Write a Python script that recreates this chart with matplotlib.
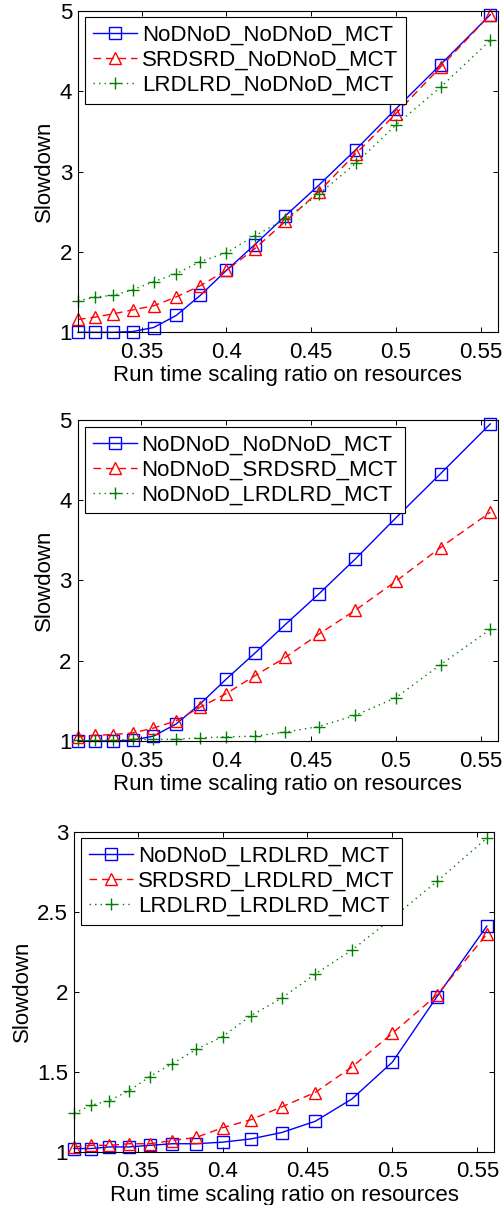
import matplotlib
matplotlib.use("Agg")
import matplotlib.pyplot as plt
from matplotlib.ticker import FuncFormatter

plt.rcParams.update({
    "font.family": ["Liberation Sans", "DejaVu Sans"],
    "font.size": 16,
    "axes.linewidth": 0.8,
    "xtick.direction": "in",
    "ytick.direction": "in",
    "xtick.top": True,
    "ytick.right": True,
    "xtick.major.size": 3.6,
    "ytick.major.size": 3.6,
    "xtick.major.width": 0.7,
    "ytick.major.width": 0.7,
    "xtick.major.pad": 7.0,
    "ytick.major.pad": 4.3,
    "legend.fontsize": 16,
})

BLUE = (0.0, 0.0, 1.0)
RED = (1.0, 0.0, 0.0)
GREEN = (0.0, 0.5, 0.0)

# run time scaling ratio (x axis, shared by all panels)
ratio = [0.3125, 0.3226, 0.3333, 0.3448, 0.3571, 0.3704, 0.3846, 0.4000,
         0.4167, 0.4348, 0.4545, 0.4762, 0.5000, 0.5263, 0.5556]

# panel 1: varying the first scenario, NoDNoD second
nod_nod = [1.00, 1.00, 1.00, 1.01, 1.06, 1.21, 1.46, 1.77, 2.09, 2.45, 2.83, 3.27, 3.78, 4.33, 4.95]
srd_nod = [1.16, 1.19, 1.23, 1.28, 1.33, 1.44, 1.58, 1.77, 2.04, 2.38, 2.75, 3.22, 3.72, 4.30, 4.95]
lrd_nod = [1.39, 1.44, 1.46, 1.53, 1.63, 1.73, 1.88, 1.99, 2.20, 2.41, 2.72, 3.10, 3.58, 4.05, 4.63]

# panel 2: NoDNoD first, varying the second
nod_srd = [1.05, 1.07, 1.08, 1.10, 1.16, 1.25, 1.42, 1.59, 1.81, 2.04, 2.33, 2.63, 2.99, 3.41, 3.85]
nod_lrd = [1.01, 1.01, 1.01, 1.02, 1.02, 1.02, 1.04, 1.05, 1.06, 1.11, 1.18, 1.32, 1.54, 1.95, 2.39]

# panel 3: LRDLRD second
nod_lrd3 = [1.02, 1.02, 1.03, 1.03, 1.04, 1.05, 1.05, 1.06, 1.08, 1.12, 1.19, 1.33, 1.56, 1.97, 2.41]
srd_lrd = [1.03, 1.04, 1.04, 1.05, 1.05, 1.07, 1.09, 1.15, 1.20, 1.28, 1.37, 1.53, 1.74, 1.98, 2.36]
lrd_lrd = [1.24, 1.29, 1.32, 1.38, 1.47, 1.55, 1.64, 1.72, 1.85, 1.96, 2.11, 2.26, 2.46, 2.69, 2.96]

panels = [
    dict(rect=[0.1548, 0.7242, 0.8327, 0.2669], ylim=(1, 5), yticks=[1, 2, 3, 4, 5],
         series=[(nod_nod, "NoDNoD_NoDNoD_MCT"),
                 (srd_nod, "SRDSRD_NoDNoD_MCT"),
                 (lrd_nod, "LRDLRD_NoDNoD_MCT")]),
    dict(rect=[0.1542, 0.3851, 0.8333, 0.2664], ylim=(1, 5), yticks=[1, 2, 3, 4, 5],
         series=[(nod_nod, "NoDNoD_NoDNoD_MCT"),
                 (nod_srd, "NoDNoD_SRDSRD_MCT"),
                 (nod_lrd, "NoDNoD_LRDLRD_MCT")]),
    dict(rect=[0.1468, 0.0442, 0.8339, 0.2656], ylim=(1, 3), yticks=[1, 1.5, 2, 2.5, 3],
         series=[(nod_lrd3, "NoDNoD_LRDLRD_MCT"),
                 (srd_lrd, "SRDSRD_LRDLRD_MCT"),
                 (lrd_lrd, "LRDLRD_LRDLRD_MCT")]),
]

styles = [
    dict(color=BLUE, marker="s", ms=8.0, linestyle="-"),
    dict(color=RED, marker="^", ms=9.0, linestyle=(0, (5.5, 3.5))),
    dict(color=GREEN, marker="+", ms=8.5, linestyle=(0, (1, 3))),
]

fig = plt.figure(figsize=(5.04, 12.05), dpi=100)

for p in panels:
    ax = fig.add_axes(p["rect"])
    for (vals, lab), st in zip(p["series"], styles):
        ax.plot(ratio, vals, color=st["color"], linestyle=st["linestyle"], lw=1.0,
                marker=st["marker"], markersize=st["ms"], markerfacecolor="none",
                markeredgecolor=st["color"], markeredgewidth=1.0, label=lab,
                clip_on=False)
    ax.set_xlim(0.3125, 0.56)
    ax.set_ylim(*p["ylim"])
    ax.set_xticks([0.35, 0.4, 0.45, 0.5, 0.55])
    ax.set_yticks(p["yticks"])
    ax.xaxis.set_major_formatter(FuncFormatter(lambda v, _: f"{v:g}"))
    ax.yaxis.set_major_formatter(FuncFormatter(lambda v, _: f"{v:g}"))
    ax.set_xlabel("Run time scaling ratio on resources", labelpad=1.5)
    ax.set_ylabel("Slowdown", labelpad=3.0)
    leg = ax.legend(loc="upper left", bbox_to_anchor=(0.0167, 0.9795), borderaxespad=0,
                    numpoints=1, handlelength=2.0, handletextpad=0.2, borderpad=0.35,
                    labelspacing=0.18, fancybox=False, framealpha=1, edgecolor="black")
    leg.get_frame().set_linewidth(0.8)
    leg.set_zorder(5)

fig.savefig("out.png", dpi=100)
